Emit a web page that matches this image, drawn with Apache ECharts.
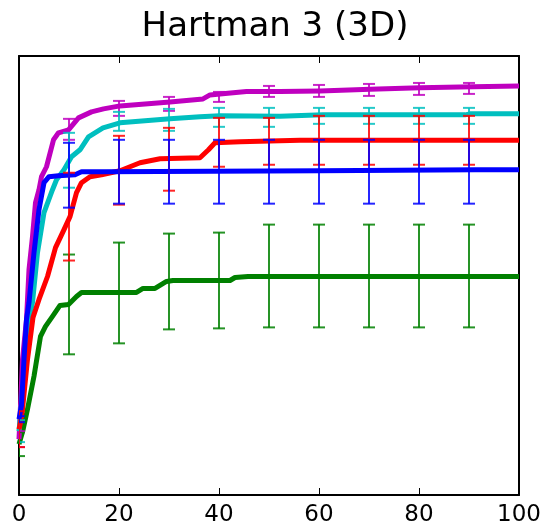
<!DOCTYPE html>
<html>
<head>
<meta charset="utf-8">
<script src="https://cdn.jsdelivr.net/npm/echarts@6/dist/echarts.min.js"></script>
<style>
  html, body { margin: 0; padding: 0; background: #fff; }
  #chart { width: 550px; height: 527px; }
</style>
</head>
<body>
<div id="chart"></div>
<script>
  // x ticks
  const xTicks = [0, 20, 40, 60, 80, 100]

  // mean curves, [iteration, value]
  const magentaLine = [[0, 0.56], [0.4, 1.0], [0.7, 1.36], [1.5, 1.76], [2.0, 2.26], [2.7, 2.59], [3.3, 2.93], [4.0, 3.06], [4.5, 3.19], [5.5, 3.29], [6.9, 3.56], [7.9, 3.63], [9.9, 3.66], [11.9, 3.78], [14.5, 3.84], [16.9, 3.87], [20.2, 3.90], [30.2, 3.94], [36.8, 3.97], [38.2, 4.01], [40.2, 4.02], [45.5, 4.045], [52.2, 4.045], [60.2, 4.05], [70.2, 4.067], [80.2, 4.083], [90.8, 4.093], [100, 4.10]]
  const cyanLine = [[0, 0.64], [1.0, 1.2], [2.0, 1.76], [2.7, 1.93], [3.7, 2.43], [5.0, 2.83], [6.7, 3.06], [7.5, 3.16], [9.0, 3.26], [10.5, 3.39], [12.2, 3.46], [13.9, 3.59], [16.8, 3.68], [20.2, 3.73], [30.2, 3.77], [36.2, 3.79], [40.2, 3.80], [52.2, 3.795], [60.8, 3.81], [89.2, 3.81], [90.2, 3.82], [100, 3.82]]
  const redLine = [[0, 0.66], [0.3, 0.73], [0.7, 0.86], [1.7, 1.36], [2.8, 1.78], [4.0, 1.96], [5.7, 2.19], [7.3, 2.48], [9.0, 2.66], [10.2, 2.79], [11.5, 3.03], [12.5, 3.13], [14.2, 3.19], [16.5, 3.21], [20.2, 3.25], [24.2, 3.33], [28.2, 3.37], [36.2, 3.38], [37.9, 3.46], [39.2, 3.53], [44.2, 3.54], [56.2, 3.555], [100, 3.555]]
  const blueLine = [[0, 0.76], [0.5, 0.9], [1.0, 1.36], [1.5, 1.76], [2.0, 1.93], [3.0, 2.43], [4.0, 2.86], [5.0, 3.13], [6.0, 3.19], [7.9, 3.20], [11.2, 3.21], [12.5, 3.24], [17.2, 3.24], [60.2, 3.25], [91.2, 3.26], [100, 3.26]]
  const greenLine = [[0, 0.51], [0.3, 0.53], [0.7, 0.63], [1.7, 0.86], [3.0, 1.19], [4.3, 1.59], [5.3, 1.69], [6.7, 1.79], [8.2, 1.90], [9.9, 1.91], [11.5, 1.99], [12.5, 2.03], [23.5, 2.03], [24.8, 2.07], [27.2, 2.07], [29.5, 2.14], [30.8, 2.15], [42.2, 2.15], [43.2, 2.18], [45.8, 2.19], [100, 2.19]]

  // error bars, [iteration, low, high]
  const magentaErr = [[0, 0.48, 0.64], [10, 3.56, 3.77], [20, 3.80, 3.95], [30, 3.85, 3.99], [40, 3.94, 4.04], [50, 3.99, 4.10], [60, 3.99, 4.11], [70, 4.00, 4.12], [80, 4.01, 4.13], [90, 4.02, 4.13]]
  const cyanErr = [[0, 0.53, 0.75], [10, 3.08, 3.63], [20, 3.65, 3.84], [30, 3.65, 3.87], [40, 3.69, 3.88], [50, 3.69, 3.88], [60, 3.72, 3.88], [70, 3.72, 3.88], [80, 3.72, 3.88], [90, 3.72, 3.88]]
  const redErr = [[0, 0.48, 0.84], [10, 2.35, 3.23], [20, 2.91, 3.60], [30, 3.05, 3.68], [40, 3.29, 3.78], [50, 3.31, 3.78], [60, 3.31, 3.80], [70, 3.31, 3.80], [80, 3.31, 3.80], [90, 3.31, 3.80]]
  const blueErr = [[0, 0.73, 0.79], [10, 2.88, 3.53], [20, 2.92, 3.56], [30, 2.92, 3.56], [40, 2.92, 3.56], [50, 2.92, 3.56], [60, 2.92, 3.56], [70, 2.92, 3.56], [80, 2.92, 3.56], [90, 2.92, 3.56]]
  const greenErr = [[0, 0.39, 0.63], [10, 1.41, 2.41], [20, 1.52, 2.53], [30, 1.66, 2.62], [40, 1.67, 2.63], [50, 1.68, 2.71], [60, 1.68, 2.71], [70, 1.68, 2.71], [80, 1.68, 2.71], [90, 1.68, 2.71]]

  const chart = echarts.init(document.getElementById('chart'))

  const lineItem = (name, color, data) => ({
    name, type: 'line', data, color, showSymbol: false, symbol: 'none', z: 2,
    lineStyle: { width: 5, color, join: 'round' },
  })

  const errItem = (name, color, data) => ({
    name: name + ' err', type: 'custom', data, clip: true, z: 3,
    encode: { x: 0, y: [1, 2] },
    renderItem(params, api) {
      const lo = api.coord([api.value(0), api.value(1)])
      const hi = api.coord([api.value(0), api.value(2)])
      const hw = 6
      const style = { stroke: color, lineWidth: 2, opacity: 0.85 }
      return {
        type: 'group',
        children: [
          { type: 'line', shape: { x1: lo[0], y1: lo[1], x2: hi[0], y2: hi[1] }, style },
          { type: 'line', shape: { x1: lo[0] - hw, y1: lo[1], x2: lo[0] + hw, y2: lo[1] }, style },
          { type: 'line', shape: { x1: hi[0] - hw, y1: hi[1], x2: hi[0] + hw, y2: hi[1] }, style },
        ],
      }
    },
  })

  const axisLine = { show: true, onZero: false, lineStyle: { color: '#000', width: 2 } }
  const tick = { show: true, inside: true, length: 7, lineStyle: { color: '#000', width: 1 } }

  chart.setOption({
    animation: false,
    title: {
      text: 'Hartman 3 (3D)', left: 'center', top: 5,
      textStyle: { fontFamily: 'DejaVu Sans', fontSize: 34, fontWeight: 'normal', color: '#000' },
    },
    grid: { left: 19, right: 31, top: 56, bottom: 31, containLabel: false },
    xAxis: [
      {
        type: 'value', min: 0, max: 100, interval: 20, position: 'bottom',
        axisLine, axisTick: tick, splitLine: { show: false },
        axisLabel: {
          show: true, margin: 9, color: '#000', fontSize: 23, fontFamily: 'DejaVu Sans',
          formatter: v => (xTicks.includes(v) ? String(v) : ''),
        },
      },
      {
        type: 'value', min: 0, max: 100, interval: 20, position: 'top',
        axisLine, axisTick: tick, splitLine: { show: false }, axisLabel: { show: false },
      },
    ],
    yAxis: [
      { type: 'value', min: 0, max: 4.4, position: 'left', axisLine, axisTick: { show: false }, axisLabel: { show: false }, splitLine: { show: false } },
      { type: 'value', min: 0, max: 4.4, position: 'right', axisLine, axisTick: { show: false }, axisLabel: { show: false }, splitLine: { show: false } },
    ],
    series: [
      lineItem('green', '#008000', greenLine),
      lineItem('magenta', '#bf00bf', magentaLine),
      lineItem('cyan', '#00bfbf', cyanLine),
      lineItem('red', '#ff0000', redLine),
      lineItem('blue', '#0000ff', blueLine),
      errItem('green', '#008000', greenErr),
      errItem('magenta', '#bf00bf', magentaErr),
      errItem('cyan', '#00bfbf', cyanErr),
      errItem('red', '#ff0000', redErr),
      errItem('blue', '#0000ff', blueErr),
    ],
  })
</script>
</body>
</html>
